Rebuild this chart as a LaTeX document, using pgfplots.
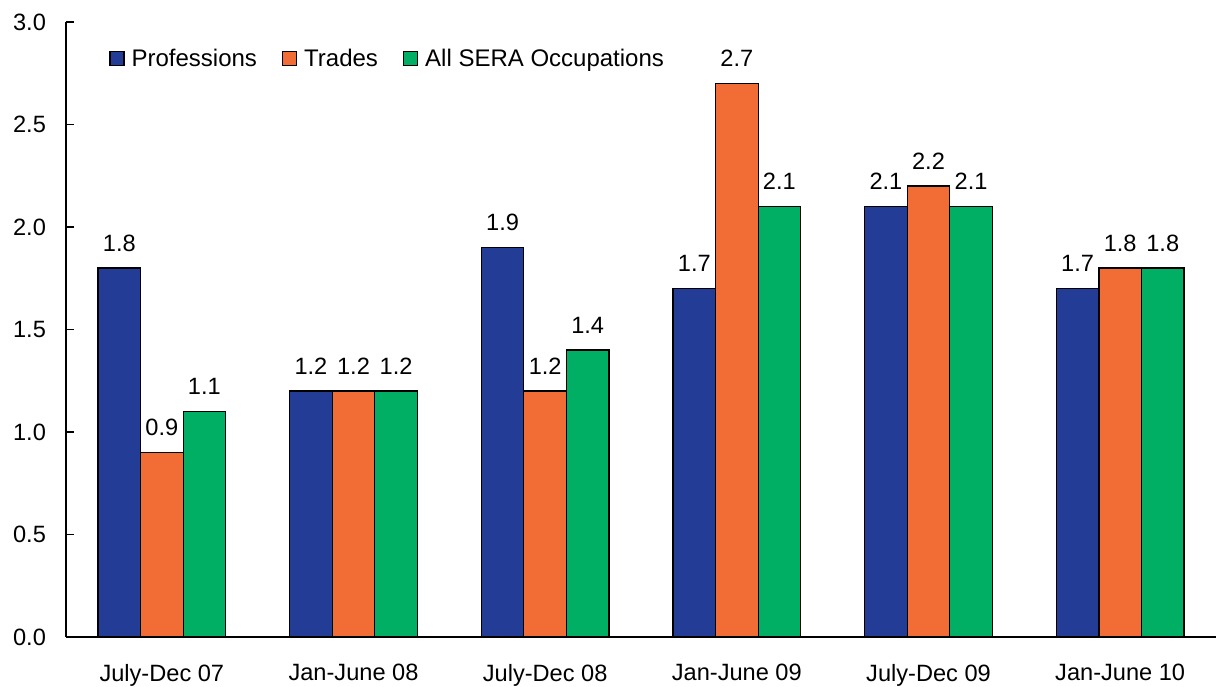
\documentclass[border=0pt]{standalone}
\usepackage{pgfplots}
\pgfplotsset{compat=1.18}
\usepackage{fontspec}
\setmainfont{Liberation Sans}
\definecolor{cblue}{HTML}{233C96}
\definecolor{corange}{HTML}{F26D35}
\definecolor{cgreen}{HTML}{00AE64}
\begin{document}
\begin{tikzpicture}
\useasboundingbox (-33pt,-24.5pt) rectangle (576.5pt,318.5pt);
\begin{axis}[
  at={(0,0)}, anchor=south west,
  scale only axis,
  width=575pt, height=307.5pt,
  font=\fontsize{11.8}{13}\selectfont,
  ybar=0pt,
  bar width=0.222,
  xmin=-0.5, xmax=5.5,
  ymin=0, ymax=3,
  ytick={0,0.5,...,3.0},
  yticklabel style={/pgf/number format/.cd,fixed,fixed zerofill,precision=1,/tikz/.cd,xshift=-6.5pt},
  /pgf/number format/assume math mode=true,
  xtick={0,...,5},
  xticklabels={July-Dec 07,Jan-June 08,July-Dec 08,Jan-June 09,July-Dec 09,Jan-June 10},
  extra x ticks={0.5,1.5,2.5,3.5,4.5,5.5},
  extra x tick labels={},
  extra x tick style={major tick length=4pt, tick style={black, line width=0.6pt}},
  axis x line*=bottom,
  axis y line*=left,
  axis line style={black, line width=0.6pt, -},
  x tick style={draw=none},
  y tick style={black, line width=0.6pt},
  major tick length=4pt,
  ytick align=inside,
  xtick align=inside,
  xticklabel style={yshift=-10pt},
  nodes near coords,
  nodes near coords style={/pgf/number format/.cd,fixed,fixed zerofill,precision=1,assume math mode=true, /tikz/.cd, black, inner sep=0pt, yshift=8pt, font=\fontsize{11.8}{13}\selectfont},
  legend style={at={(18.5pt,298pt)}, anchor=north west, draw=none, fill=none,
    legend columns=-1, font=\fontsize{12}{13}\selectfont,
    /tikz/every even column/.append style={column sep=10.5pt}},
  legend image code/.code={\draw[#1, draw=black, line width=0.6pt] (0pt,-3pt) rectangle (7pt,4pt); \path (8.5pt,0pt);},
  every axis plot/.append style={draw=black, line width=0.6pt},
]
\addplot[fill=cblue] coordinates {(0,1.8) (1,1.2) (2,1.9) (3,1.7) (4,2.1) (5,1.7)};
\addplot[fill=corange] coordinates {(0,0.9) (1,1.2) (2,1.2) (3,2.7) (4,2.2) (5,1.8)};
\addplot[fill=cgreen] coordinates {(0,1.1) (1,1.2) (2,1.4) (3,2.1) (4,2.1) (5,1.8)};
\legend{Professions,Trades,All SERA Occupations}
\end{axis}
\end{tikzpicture}
\end{document}
